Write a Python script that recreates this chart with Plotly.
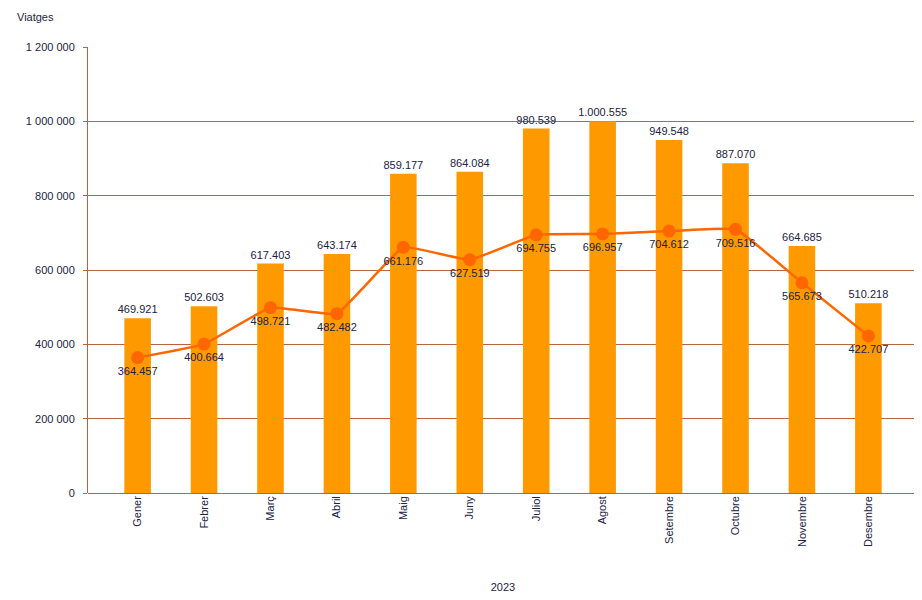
import plotly.graph_objects as go

months = ["Gener", "Febrer", "Març", "Abril", "Maig", "Juny", "Juliol", "Agost",
          "Setembre", "Octubre", "Novembre", "Desembre"]
bar_values = [469921, 502603, 617403, 643174, 859177, 864084, 980539, 1000555,
              949548, 887070, 664685, 510218]
line_values = [364457, 400664, 498721, 482482, 661176, 627519, 694755, 696957,
               704612, 709516, 565673, 422707]
y_ticks = [0, 200000, 400000, 600000, 800000, 1000000, 1200000]
y_tick_labels = ["0", "200 000", "400 000", "600 000", "800 000", "1 000 000", "1 200 000"]
y_title = "Viatges"
x_title = "2023"


def fmt(v):
    return f"{v:,}".replace(",", ".")


FONT = "Liberation Sans, Arial, sans-serif"
TEXT_COLOR = "#222244"
GRID = "#B8653F"

fig = go.Figure()
fig.add_trace(go.Bar(
    x=months, y=bar_values,
    marker=dict(color="#FF9900", line=dict(width=0)),
    text=[fmt(v) for v in bar_values],
    textposition="outside",
    constraintext="none",
    textfont=dict(family=FONT, size=11, color=TEXT_COLOR),
    cliponaxis=False,
    showlegend=False,
))
fig.add_trace(go.Scatter(
    x=months, y=line_values,
    mode="lines+markers+text",
    line=dict(color="#FF6600", width=2.5, shape="spline", smoothing=0.3),
    marker=dict(color="#FF6600", size=13),
    text=[fmt(v) for v in line_values],
    textposition="bottom center",
    textfont=dict(family=FONT, size=11, color=TEXT_COLOR),
    cliponaxis=False,
    showlegend=False,
))

fig.update_layout(
    width=914, height=592,
    margin=dict(l=80, r=4, t=39, b=107, autoexpand=False),
    paper_bgcolor="white", plot_bgcolor="white",
    bargap=0.6,
    font=dict(family=FONT, size=11, color=TEXT_COLOR),
    xaxis=dict(
        automargin=False,
        tickangle=-90,
        tickfont=dict(family=FONT, size=11, color=TEXT_COLOR),
        showgrid=False,
        showline=False,
        ticks="",
        title=dict(text=x_title, font=dict(family=FONT, size=11, color=TEXT_COLOR), standoff=37),
    ),
    yaxis=dict(
        automargin=False,
        range=[0, 1200000],
        tickvals=y_ticks,
        ticktext=y_tick_labels,
        tickfont=dict(family=FONT, size=11, color=TEXT_COLOR),
        ticklabelstandoff=6,
        showgrid=True, gridcolor=GRID, gridwidth=1,
        zeroline=True, zerolinecolor=GRID, zerolinewidth=1,
        showline=True, linecolor=GRID, linewidth=1,
        ticks="outside", ticklen=4, tickcolor=GRID,
    ),
    annotations=[dict(
        text=y_title, xref="paper", yref="paper", x=-0.088, y=1.068,
        xanchor="left", yanchor="middle", showarrow=False,
        font=dict(family=FONT, size=11, color=TEXT_COLOR),
    )],
)

fig.write_html("out.html")
